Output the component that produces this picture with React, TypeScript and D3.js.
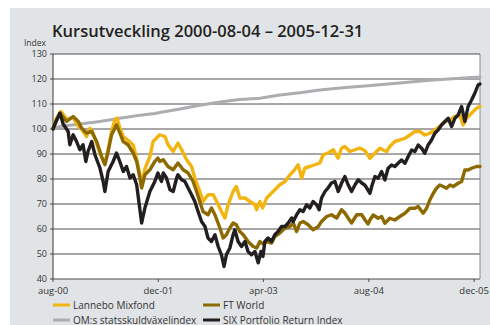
import React from "react";
import * as d3 from "d3";

type Pt = [string, number];

const lannebo: Pt[] = [
  ["2000-08-04",100],["2000-08-18",104],["2000-09-10",107],["2000-10-06",104],["2000-11-05",104.5],
  ["2000-11-29",101],["2000-12-14",100],["2001-01-06",97],["2001-01-22",100.3],["2001-02-02",99],
  ["2001-02-22",94],["2001-03-17",88.5],["2001-04-01",86],["2001-04-16",92],["2001-05-02",99],
  ["2001-05-17",103.6],["2001-05-27",104.4],["2001-06-09",100.5],["2001-06-25",97],["2001-07-17",95.5],
  ["2001-08-10",93.6],["2001-08-26",88],["2001-09-10",82],["2001-09-18",78],["2001-10-03",84],
  ["2001-10-26",89],["2001-11-10",95],["2001-11-26",96.4],["2001-12-11",97.7],["2002-01-04",97],
  ["2002-01-18",93.7],["2002-02-11",91],["2002-03-05",94.4],["2002-03-22",91.7],["2002-04-14",87.7],
  ["2002-05-07",85],["2002-05-22",80.4],["2002-06-14",75],["2002-06-29",71],["2002-07-22",73.7],
  ["2002-08-15",73.7],["2002-08-31",71],["2002-09-22",67],["2002-10-08",64.4],["2002-10-23",69.7],
  ["2002-11-15",75],["2002-11-30",77],["2002-12-16",72.4],["2003-01-09",72.4],["2003-02-01",71],
  ["2003-02-24",69.7],["2003-03-04",67.7],["2003-03-19",71],["2003-04-01",68.4],["2003-04-19",72.4],
  ["2003-05-12",74.4],["2003-06-04",76.4],["2003-06-19",77.7],["2003-07-13",79],["2003-08-05",81.7],
  ["2003-08-20",83],["2003-09-12",85.7],["2003-09-28",80.4],["2003-10-13",84.4],["2003-11-05",85],
  ["2003-11-28",85.7],["2003-12-21",86.4],["2004-01-06",89.7],["2004-01-28",90.4],["2004-02-21",91.7],
  ["2004-03-15",88.4],["2004-03-31",92.4],["2004-04-15",93],["2004-05-08",91],["2004-06-01",91.7],
  ["2004-06-23",92.4],["2004-07-17",91.3],["2004-08-09",88.3],["2004-09-01",90.3],["2004-09-24",92.3],
  ["2004-10-09",91.6],["2004-10-25",91],["2004-11-09",93],["2004-12-02",95],["2004-12-25",95.6],
  ["2005-01-18",96.3],["2005-02-10",97.6],["2005-03-05",99],["2005-03-28",99],["2005-04-20",97.6],
  ["2005-05-13",98.3],["2005-06-05",99.6],["2005-06-28",101],["2005-07-22",103],["2005-08-14",103.6],
  ["2005-09-06",105],["2005-09-29",105.6],["2005-10-14",101.6],["2005-10-30",104.3],["2005-11-22",106.3],
  ["2005-12-15",108.3],["2005-12-31",109],
];

const ftWorld: Pt[] = [
  ["2000-08-04",100],["2000-08-18",103],["2000-09-05",106.4],["2000-10-06",103],["2000-11-05",105],
  ["2000-11-29",103],["2000-12-14",100.4],["2001-01-06",98.4],["2001-01-30",99],["2001-02-22",95],
  ["2001-03-17",89],["2001-04-01",85.7],["2001-04-16",91],["2001-05-02",97.7],["2001-05-25",101.7],
  ["2001-06-09",98.4],["2001-06-25",95],["2001-07-17",93.7],["2001-08-10",90.4],["2001-08-26",87],
  ["2001-09-10",80.4],["2001-09-18",76.4],["2001-10-03",81.7],["2001-10-26",83.7],["2001-11-18",87],
  ["2001-12-02",88.4],["2001-12-11",87],["2001-12-27",87.7],["2002-01-18",85],["2002-02-11",83.7],
  ["2002-03-05",86.4],["2002-03-29",83.7],["2002-04-21",82.4],["2002-05-14",79],["2002-05-30",75],
  ["2002-06-14",71],["2002-06-29",67],["2002-07-22",65.7],["2002-08-07",68.4],["2002-08-23",65.7],
  ["2002-09-15",60.4],["2002-09-30",56.4],["2002-10-15",57.7],["2002-10-31",60.4],["2002-11-15",62.4],
  ["2002-11-30",61.7],["2002-12-16",59],["2003-01-01",57.7],["2003-01-23",55],["2003-02-16",53],
  ["2003-03-04",52.4],["2003-03-19",55],["2003-04-03",54],["2003-04-19",55],["2003-05-12",54.4],
  ["2003-05-27",57],["2003-06-19",58.4],["2003-07-13",60.4],["2003-08-05",61],["2003-08-20",62.4],
  ["2003-09-05",59],["2003-09-20",62.4],["2003-10-05",63],["2003-10-28",61.7],["2003-11-20",59.7],
  ["2003-12-14",61],["2003-12-29",63],["2004-01-22",65],["2004-02-13",65.7],["2004-03-08",64.4],
  ["2004-03-31",67.7],["2004-04-15",66.4],["2004-04-30",64.4],["2004-05-16",62.4],["2004-06-09",65.7],
  ["2004-07-02",65.7],["2004-07-17",63.7],["2004-07-31",62],["2004-08-09",63.6],["2004-08-24",65.6],
  ["2004-09-16",64.3],["2004-10-02",65],["2004-10-17",62.3],["2004-11-09",64.3],["2004-12-02",63.6],
  ["2004-12-25",65],["2005-01-18",66.3],["2005-02-10",68.3],["2005-03-05",68.3],["2005-03-20",69],
  ["2005-04-12",66.3],["2005-04-28",68.3],["2005-05-13",71.6],["2005-05-29",74.3],["2005-06-13",76.3],
  ["2005-06-28",77.6],["2005-07-14",77],["2005-07-29",76.3],["2005-08-14",77.6],["2005-08-29",77],
  ["2005-09-21",78.3],["2005-10-07",79],["2005-10-22",83.6],["2005-11-06",83.6],["2005-11-22",84.3],
  ["2005-12-15",85],["2005-12-31",85],
];

const omIndex: Pt[] = [
  ["2000-08-04",100],["2000-09-05",101],["2000-12-06",102],["2001-03-09",103],["2001-06-09",104.3],
  ["2001-09-10",105.5],["2001-11-18",106.2],["2001-12-11",106.6],["2002-03-14",108],["2002-06-14",109.5],
  ["2002-09-15",110.8],["2002-12-16",111.8],["2003-03-19",112.3],["2003-06-19",113.6],["2003-09-20",114.5],
  ["2003-12-21",115.6],["2004-04-06",116.5],["2004-07-17",117.2],["2004-12-25",118.4],["2005-05-13",119.5],
  ["2005-09-29",120.3],["2005-12-31",120.8],
];

const six: Pt[] = [
  ["2000-08-04",100],["2000-08-18",103],["2000-09-05",106.3],["2000-09-20",102],["2000-10-13",99],
  ["2000-10-21",93.7],["2000-11-05",97.7],["2000-11-21",95],["2000-12-06",91.7],["2000-12-21",93.7],
  ["2001-01-03",87],["2001-01-13",91],["2001-01-30",95],["2001-02-14",89.7],["2001-03-09",84.4],
  ["2001-03-24",79],["2001-04-01",75],["2001-04-16",83],["2001-05-09",87],["2001-05-25",90.4],
  ["2001-06-09",87],["2001-06-25",83],["2001-07-10",85],["2001-07-26",80.4],["2001-08-10",81.7],
  ["2001-08-26",77.7],["2001-09-07",69.7],["2001-09-18",62.4],["2001-10-03",68.4],["2001-10-26",75],
  ["2001-11-18",79],["2001-12-02",82.4],["2001-12-19",79],["2001-12-27",82.4],["2002-01-11",80.4],
  ["2002-01-27",75.7],["2002-02-11",75],["2002-02-27",80.4],["2002-03-05",81.7],["2002-03-22",79.7],
  ["2002-04-06",79],["2002-04-21",76.4],["2002-05-07",73.7],["2002-05-22",71],["2002-06-06",67],
  ["2002-06-22",63],["2002-07-08",61],["2002-07-22",56.4],["2002-08-07",55],["2002-08-23",57.7],
  ["2002-09-07",53],["2002-09-22",49.7],["2002-10-04",45],["2002-10-15",49.7],["2002-10-31",52.4],
  ["2002-11-15",57.7],["2002-11-23",59.7],["2002-12-08",55],["2002-12-24",53],["2003-01-09",55],
  ["2003-01-23",51],["2003-02-08",49.7],["2003-02-24",51],["2003-03-11",46.5],["2003-03-24",51],
  ["2003-04-02",49],["2003-04-11",55],["2003-04-26",56.4],["2003-05-12",55],["2003-05-27",57.7],
  ["2003-06-11",59],["2003-06-27",61],["2003-07-13",61],["2003-07-28",62.4],["2003-08-13",64.4],
  ["2003-08-20",63],["2003-09-05",65.7],["2003-09-20",67.7],["2003-10-05",67],["2003-10-21",69.7],
  ["2003-11-05",68.4],["2003-11-20",71],["2003-12-06",69.7],["2003-12-18",67.7],["2003-12-29",72.4],
  ["2004-01-14",75],["2004-01-28",76.4],["2004-02-13",78.4],["2004-02-29",79],["2004-03-15",75],
  ["2004-03-31",78.4],["2004-04-15",81],["2004-04-30",77.7],["2004-05-16",75],["2004-06-01",77.7],
  ["2004-06-16",79.7],["2004-07-02",78.4],["2004-07-17",77.5],["2004-08-09",74.3],["2004-08-17",77],
  ["2004-09-01",81],["2004-09-16",80.3],["2004-10-02",83],["2004-10-17",79.6],["2004-11-01",84.3],
  ["2004-11-17",85.6],["2004-12-02",85],["2004-12-17",86.3],["2005-01-02",87.6],["2005-01-18",86.3],
  ["2005-02-02",89],["2005-02-18",91.6],["2005-03-05",91],["2005-03-20",93.6],["2005-04-05",92.3],
  ["2005-04-20",90.3],["2005-05-05",93.6],["2005-05-21",95.6],["2005-06-05",98.3],["2005-06-20",99.6],
  ["2005-07-06",101.6],["2005-07-22",103],["2005-08-06",104.3],["2005-08-22",101],["2005-09-06",104.3],
  ["2005-09-21",105.6],["2005-10-07",109],["2005-10-22",103],["2005-11-06",109],["2005-11-22",111.6],
  ["2005-12-07",114.3],["2005-12-22",117.6],["2005-12-31",118],
];

const yTicks = [40, 50, 60, 70, 80, 90, 100, 110, 120, 130];
const xTickDates = ["2000-08-04", "2001-12-04", "2003-04-04", "2004-08-04", "2005-12-04"];
const xTickLabels = ["aug-00", "dec-01", "apr-03", "aug-04", "dec-05"];

const seriesNames = ["OM:s statsskuldväxelindex", "Lannebo Mixfond", "FT World", "SIX Portfolio Return Index"];
const seriesColors = ["#abadb0", "#f2b40f", "#8c6a00", "#231f20"];
const seriesData = [omIndex, lannebo, ftWorld, six];

const title = "Kursutveckling 2000-08-04 – 2005-12-31";

export default function App() {
  const W = 490, H = 325;
  const left = 53, right = 480, top = 54, bottom = 279;
  const parse = d3.timeParse("%Y-%m-%d");
  const x = d3.scaleTime().domain([parse("2000-08-04")!, parse("2005-12-31")!]).range([left, right]);
  const y = d3.scaleLinear().domain([40, 130]).range([bottom, top]);
  const line = d3.line<Pt>().x(d => x(parse(d[0])!)).y(d => y(d[1]));
  const font = "'Open Sans', 'Noto Sans', sans-serif";

  const legend = [
    { i: 1, lx: 53, ly: 305 },
    { i: 2, lx: 203, ly: 305 },
    { i: 0, lx: 53, ly: 320 },
    { i: 3, lx: 203, ly: 320 },
  ];

  return (
    <svg width={W} height={H} style={{ position: "absolute", left: 0, top: 0 }} fontFamily={font}>
      <rect x={10} y={8} width={W - 10} height={H - 8} fill="#e1e4e6" />
      <text x={52} y={37} fontSize={16.5} fontWeight={600} fill="#231f20">{title}</text>
      <text x={46} y={45.5} fontSize={8.5} textAnchor="end" fill="#333">Index</text>
      <rect x={left} y={top} width={right - left} height={bottom - top} fill="#ffffff" />
      {yTicks.map(t => (
        <g key={t}>
          <line x1={left} x2={right} y1={y(t)} y2={y(t)} stroke="#3a3a3a" strokeWidth={0.9} />
          <line x1={left - 3} x2={left} y1={y(t)} y2={y(t)} stroke="#3a3a3a" strokeWidth={0.9} />
          <text x={47} y={y(t) + 2.5} fontSize={9} textAnchor="end" fill="#333">{t}</text>
        </g>
      ))}
      <line x1={left} x2={left} y1={top} y2={bottom} stroke="#3a3a3a" strokeWidth={1} />
      <line x1={right} x2={right} y1={top} y2={bottom} stroke="#8a8c8e" strokeWidth={1} />
      {xTickDates.map((d, i) => {
        const xx = x(parse(d)!);
        return (
          <g key={d}>
            <line x1={xx} x2={xx} y1={bottom} y2={bottom + 3} stroke="#3a3a3a" strokeWidth={0.9} />
            <text x={xx} y={293.5} fontSize={9.5} textAnchor="middle" fill="#333">{xTickLabels[i]}</text>
          </g>
        );
      })}
      {seriesData.map((s, i) => (
        <path key={i} d={line(s) || ""} fill="none" stroke={seriesColors[i]}
          strokeWidth={i === 0 ? 3 : 3.4} strokeLinejoin="round" strokeLinecap="round" />
      ))}
      {legend.map(({ i, lx, ly }) => (
        <g key={i}>
          <rect x={lx} y={ly - 1.5} width={17} height={3} fill={seriesColors[i]} />
          <text x={lx + 20} y={ly + 3.5} fontSize={10} fill="#333">{seriesNames[i]}</text>
        </g>
      ))}
    </svg>
  );
}
